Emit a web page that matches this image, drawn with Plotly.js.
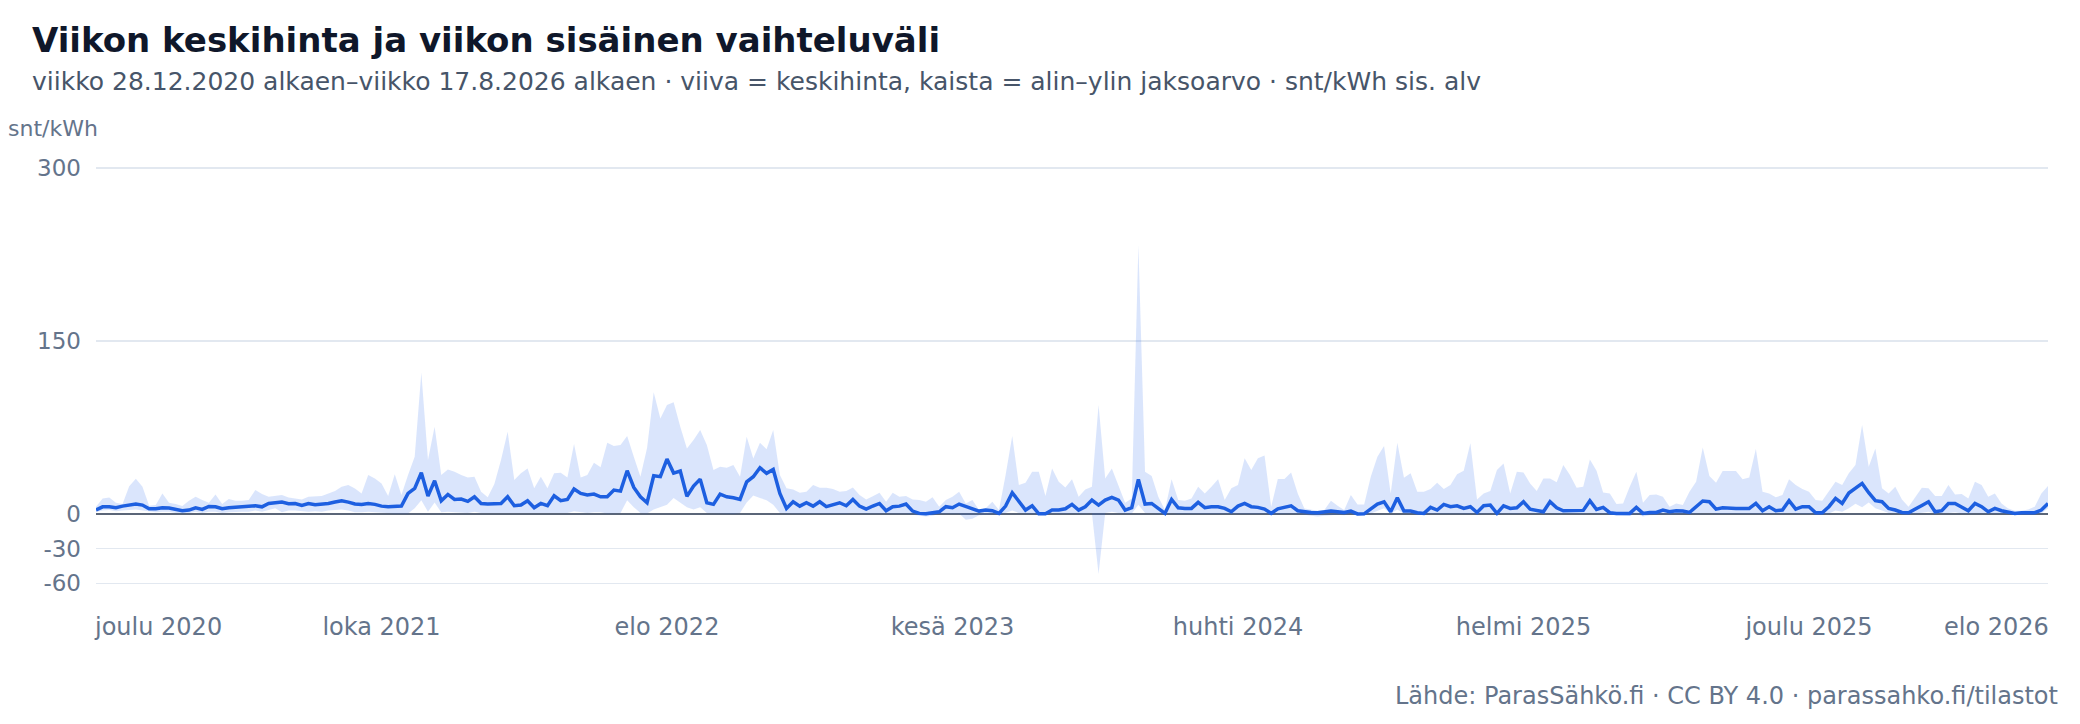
<!DOCTYPE html>
<html>
<head>
<meta charset="utf-8">
<script src="https://cdn.plot.ly/plotly-3.0.1.min.js"></script>
<style>
  html, body { margin: 0; padding: 0; background: #fff; }
  #chart { width: 2080px; height: 724px; }
</style>
</head>
<body>
<div id="chart"></div>
<script>
// viikkodata, viikko 28.12.2020 alkaen (indeksi 0) ... viikko 17.8.2026 alkaen (indeksi 294)
const weekAvg = [
  3.5, 6.3, 6.3, 5.5, 6.9, 7.8, 8.7, 7.8, 4.6, 4.6,
  5.5, 5.2, 4.0, 2.9, 3.5, 5.5, 4.0, 6.6, 6.3, 4.6,
  5.5, 6.1, 6.6, 6.9, 7.2, 6.3, 9.2, 9.8, 10.4, 9.0,
  9.2, 7.5, 9.2, 8.1, 8.4, 9.2, 10.4, 11.5, 10.4, 8.7,
  8.4, 9.2, 8.4, 6.9, 6.3, 6.9, 6.9, 17.9, 22.2, 35.8,
  15.6, 28.9, 11.5, 17.0, 12.7, 13.0, 11.0, 15.0, 9.2, 8.7,
  8.7, 9.2, 15.0, 7.2, 7.8, 11.6, 5.5, 9.2, 7.2, 15.9,
  11.6, 12.7, 21.7, 17.9, 16.5, 17.3, 15.0, 15.0, 20.8, 19.9,
  37.6, 23.1, 15.0, 9.8, 33.2, 32.4, 47.7, 35.5, 37.3, 15.3,
  24.3, 30.3, 9.8, 8.4, 17.3, 15.0, 14.2, 12.7, 28.0, 32.4,
  40.2, 35.3, 38.7, 17.9, 4.9, 10.7, 6.9, 9.8, 6.9, 10.7,
  6.4, 7.8, 9.8, 7.2, 12.7, 6.9, 4.3, 7.0, 9.2, 2.9,
  6.4, 6.9, 8.7, 2.6, 0.6, 0.3, 0.9, 2.0, 6.4, 5.5,
  8.7, 6.4, 4.9, 2.6, 3.5, 2.9, 0.6, 6.9, 18.5, 10.7,
  3.5, 7.2, 0.2, 0.3, 3.5, 3.5, 4.6, 8.4, 3.5, 6.4,
  12.1, 7.8, 12.1, 14.5, 12.1, 3.5, 5.5, 30.1, 8.7, 9.2,
  4.9, 0.6, 12.7, 5.5, 4.9, 4.9, 10.1, 5.5, 6.4, 6.4,
  4.9, 2.0, 6.9, 9.2, 6.4, 5.8, 4.3, 0.6, 4.6, 5.8,
  7.2, 2.9, 2.0, 1.4, 1.2, 1.7, 2.6, 2.0, 1.4, 2.6,
  0.1, 0.2, 4.9, 8.7, 10.7, 2.0, 14.2, 2.6, 2.6, 1.2,
  0.6, 5.8, 3.5, 8.4, 6.4, 7.2, 4.9, 6.4, 1.4, 7.2,
  7.8, 0.6, 7.2, 4.9, 5.5, 10.7, 4.3, 3.5, 2.0, 10.7,
  5.5, 2.9, 2.9, 3.2, 3.2, 11.6, 4.0, 5.8, 1.2, 0.6,
  0.6, 0.6, 5.8, 0.6, 1.4, 1.4, 3.5, 2.0, 2.9, 2.6,
  1.4, 6.4, 11.3, 10.7, 4.3, 5.5, 4.9, 4.9, 4.9, 4.9,
  9.2, 2.9, 6.4, 2.9, 3.5, 11.6, 4.3, 6.4, 6.4, 1.2,
  1.2, 6.4, 13.6, 9.2, 18.2, 22.3, 26.6, 18.5, 11.6, 10.7,
  4.9, 3.5, 1.4, 1.2, 4.0, 7.5, 10.7, 2.0, 2.9, 9.2,
  9.2, 6.4, 2.9, 9.2, 6.4, 2.0, 4.9, 2.9, 1.4, 0.6,
  1.2, 1.4, 1.2, 3.5, 9.2
];
const weekMax = [
  6.3, 13.6, 14.4, 9.8, 8.7, 24.2, 30.6, 23.7, 7.2, 7.8,
  17.9, 9.8, 8.7, 6.9, 11.5, 15.0, 12.1, 9.8, 17.0, 8.7,
  13.0, 11.5, 11.5, 12.1, 20.8, 17.3, 15.0, 15.9, 16.5, 14.4,
  13.6, 12.7, 15.0, 15.0, 15.6, 17.9, 19.9, 23.7, 25.1, 22.2,
  17.9, 33.8, 30.9, 26.6, 15.6, 34.6, 16.5, 33.8, 49.6, 122.4,
  46.8, 75.6, 33.8, 38.7, 36.7, 33.8, 31.7, 32.3, 19.4, 14.5,
  26.0, 46.8, 71.4, 29.5, 35.3, 39.6, 22.3, 32.4, 22.3, 35.3,
  35.8, 31.8, 60.7, 31.8, 33.8, 44.5, 40.5, 61.8, 58.9, 59.8,
  67.6, 49.7, 32.4, 57.2, 105.5, 82.9, 94.5, 97.0, 75.7, 56.9,
  64.2, 72.8, 59.8, 38.1, 41.0, 40.2, 42.5, 32.4, 67.0, 48.2,
  61.8, 56.1, 72.8, 33.8, 22.3, 21.4, 18.5, 19.4, 25.1, 22.8,
  22.8, 21.7, 19.4, 19.9, 23.1, 16.5, 12.7, 15.5, 18.5, 10.7,
  18.5, 15.0, 15.6, 12.7, 12.1, 10.7, 14.5, 6.4, 12.1, 15.0,
  19.4, 9.2, 12.1, 3.5, 5.0, 10.7, 3.5, 33.8, 67.6, 25.1,
  27.2, 36.7, 36.7, 15.6, 39.6, 28.0, 23.0, 30.1, 15.0, 21.4,
  23.7, 94.5, 30.9, 39.6, 25.1, 9.8, 13.6, 233.0, 36.7, 32.9,
  15.0, 3.5, 30.1, 12.1, 11.6, 13.6, 23.7, 17.9, 23.7, 30.1,
  12.1, 22.3, 25.1, 48.3, 38.2, 48.3, 50.8, 6.4, 30.3, 30.3,
  36.1, 17.9, 4.9, 4.0, 2.9, 3.5, 11.6, 7.2, 3.5, 16.5,
  8.4, 8.4, 32.4, 49.7, 59.0, 17.9, 61.8, 31.5, 35.3, 19.4,
  19.4, 21.7, 27.2, 21.7, 25.1, 34.5, 37.6, 61.3, 12.7, 17.9,
  19.9, 38.2, 43.9, 17.9, 36.7, 36.1, 26.6, 19.9, 30.9, 30.9,
  27.5, 42.5, 33.8, 22.8, 23.7, 47.4, 37.6, 18.8, 17.9, 8.7,
  9.2, 23.7, 36.7, 9.8, 16.5, 17.0, 15.0, 6.4, 9.2, 7.8,
  19.4, 28.0, 57.8, 32.9, 27.2, 37.3, 37.3, 37.3, 30.1, 31.8,
  56.4, 19.4, 17.9, 14.5, 16.5, 30.1, 25.1, 21.7, 19.4, 12.1,
  11.6, 19.4, 28.0, 25.1, 35.3, 42.5, 77.2, 41.0, 56.9, 22.3,
  17.9, 23.7, 12.7, 6.4, 15.0, 22.8, 22.3, 15.6, 15.6, 25.1,
  17.0, 17.3, 13.6, 28.0, 25.1, 15.0, 17.9, 9.2, 4.9, 2.9,
  2.9, 4.0, 6.4, 17.9, 24.3
];
const weekMin = [
  1.5, 3, 3.5, 2.5, 3, 3.5, 4, 3, 2, 1.5,
  2, 2, 1, 0.5, 1, 2, 1, 2, 2, 1,
  1.5, 2, 2, 2, 3, 2, 3.5, 5, 1.5, 3,
  3, 2.5, 2, 2.5, 2, 3, 3.5, 4, 3, 1.5,
  1.5, 2, 1.5, 1, 1, 0.5, 0.5, 0.5, 5, 12,
  2, 10, 1.5, 2, 1.5, 1.5, 1, 2, 1, 1,
  1, 1, 1.5, 1, 1, 1.5, 1, 1, 1, 1.5,
  1, 1, 2.5, 1.5, 1, 1.5, 1.5, 0.5, 1, 1,
  12, 6, 1, 0.5, 4, 6, 8, 14, 10, 6,
  4, 6, 1, 1, 0.5, 0.5, 0.3, 1, 10, 16,
  14, 12, 8, 1, 0.5, 0.5, 0.3, 0.5, 0.5, 0.5,
  0.3, 0.5, 0.5, 0.3, 1, 0.3, 0.2, 0.5, 0.5, 0.2,
  0.3, 0.5, 0.5, -0.5, -1.5, -2, -1.5, 0, 0.2, 0.3,
  0.5, -5, -4, -1, -0.5, -0.3, -1, 1, 3, 1,
  0.5, 0.5, -0.5, -0.3, 0.5, 0.3, 0.2, 0.5, 0.3, 0.5,
  1, -52, 1, 2, 1, 0.3, 0.5, 8, 1, 1,
  0.3, -0.5, 1, 0.3, 0.3, 0.3, 0.5, 0.3, 0.3, 0.3,
  0.3, 0.2, 0.5, 0.5, 0.5, 0.3, 0.3, -0.5, 0.2, 0.3,
  0.5, 0.2, -0.5, -1.5, -2, -1.5, -1, -0.5, -1, 0,
  -1, -1, 0.5, 3, 5, 0.2, 4, 0.2, 0.2, 0.1,
  -0.5, 0.3, 0.3, 0.5, 0.5, 0.5, 0.3, 0.3, -0.5, 0.5,
  0.5, -0.5, 0.5, 0.3, 0.3, 1, 0.3, 0.2, 0.1, 1,
  0.3, 0.1, 0.1, 0.2, 0.2, 1, 0.2, 0.3, -0.5, -1,
  -1, -1.5, 0.2, -2, -1, -0.5, -0.3, -0.5, -0.3, -0.5,
  -0.5, 0.3, 1, 1, 0.3, 0.3, 0.3, 0.3, 0.3, 0.3,
  0.5, 0.2, 0.3, 0.2, 0.2, 1, 0.3, 0.3, 0.3, -0.5,
  -0.5, 0.5, 3, 2, 5, 9, 6, 10, 5, 3,
  1, 0.5, 0.2, 0.1, 0.3, 1, 2, 0.2, 0.3, 1,
  1.5, 0.5, 0.3, 1, 0.5, 0.2, 0.3, 0.2, 0.1, -0.3,
  -0.3, -0.2, 0.2, 0.5, 5
];

// akselin kuukausimerkinnät (viikkoindeksi -> teksti)
const tickWeeks = [0, 43, 86, 129, 172, 215, 258, 294];
const tickLabels = ['joulu 2020', 'loka 2021', 'elo 2022', 'kesä 2023', 'huhti 2024', 'helmi 2025', 'joulu 2025', 'elo 2026'];
const yTicks = [-60, -30, 0, 150, 300];

const weeks = weekAvg.map((_, i) => i);
const font = 'DejaVu Sans, Verdana, sans-serif';
const muted = '#64748b';

const traces = [
  {
    x: weeks, y: weekMin, type: 'scatter', mode: 'lines',
    line: { width: 0 }, hoverinfo: 'skip', showlegend: false
  },
  {
    x: weeks, y: weekMax, type: 'scatter', mode: 'lines',
    line: { width: 0 }, fill: 'tonexty', fillcolor: 'rgba(37,99,235,0.17)',
    hoverinfo: 'skip', showlegend: false
  },
  {
    x: weeks, y: weekAvg, type: 'scatter', mode: 'lines',
    line: { color: '#1d5fe0', width: 3.5 }, showlegend: false
  }
];

// reunimmaiset merkinnät ankkuroidaan reunoihin, muut keskitetään
const inner = tickWeeks.slice(1, -1);
const innerText = tickLabels.slice(1, -1);

const layout = {
  width: 2080, height: 724,
  margin: { l: 96, r: 32, t: 140, b: 128 },
  paper_bgcolor: '#fff', plot_bgcolor: '#fff',
  font: { family: font, color: muted, size: 22 },
  title: {
    text: 'Viikon keskihinta ja viikon sisäinen vaihteluväli',
    font: { family: font, size: 34, color: '#0f172a', weight: 'bold' },
    xref: 'container', yref: 'container',
    x: 32 / 2080, xanchor: 'left', y: 1 - 40 / 724, yanchor: 'middle'
  },
  xaxis: {
    range: [0, 294], showgrid: false, zeroline: false, showline: false,
    tickvals: inner, ticktext: innerText, ticks: '',
    ticklabelstandoff: 14, tickfont: { size: 24, color: muted }, fixedrange: true
  },
  yaxis: {
    range: [-71, 324.2], tickvals: yTicks, ticktext: yTicks.map(String),
    showgrid: true, gridcolor: '#e2e8f0', gridwidth: 1.5,
    zeroline: true, zerolinecolor: '#5b6678', zerolinewidth: 2,
    ticks: '', ticklabelstandoff: 14, tickfont: { size: 23, color: muted }, fixedrange: true
  },
  annotations: [
    {
      text: 'viikko 28.12.2020 alkaen–viikko 17.8.2026 alkaen · viiva = keskihinta, kaista = alin–ylin jaksoarvo · snt/kWh sis. alv',
      xref: 'paper', yref: 'paper', x: -66 / 1952, y: 1, xanchor: 'left', yanchor: 'middle',
      yshift: 59, showarrow: false, font: { size: 25, color: '#475569' }
    },
    {
      text: 'snt/kWh', xref: 'paper', yref: 'paper', x: -90 / 1952, y: 1,
      xanchor: 'left', yanchor: 'middle', yshift: 12, showarrow: false,
      font: { size: 22, color: muted }
    },
    {
      text: tickLabels[0], xref: 'x', yref: 'paper', x: tickWeeks[0], y: 0,
      xanchor: 'left', yanchor: 'middle', yshift: -31, xshift: -4, showarrow: false,
      font: { size: 24, color: muted }
    },
    {
      text: tickLabels[tickLabels.length - 1], xref: 'x', yref: 'paper',
      x: tickWeeks[tickWeeks.length - 1], y: 0,
      xanchor: 'right', yanchor: 'middle', yshift: -31, xshift: 3, showarrow: false,
      font: { size: 24, color: muted }
    },
    {
      text: 'Lähde: ParasSähkö.fi · CC BY 4.0 · parassahko.fi/tilastot',
      xref: 'paper', yref: 'paper', x: 1 + 12 / 1952, y: 0,
      xanchor: 'right', yanchor: 'middle', yshift: -100, showarrow: false,
      font: { size: 24, color: muted }
    }
  ]
};

Plotly.newPlot('chart', traces, layout, { displayModeBar: false, staticPlot: true });
</script>
</body>
</html>
